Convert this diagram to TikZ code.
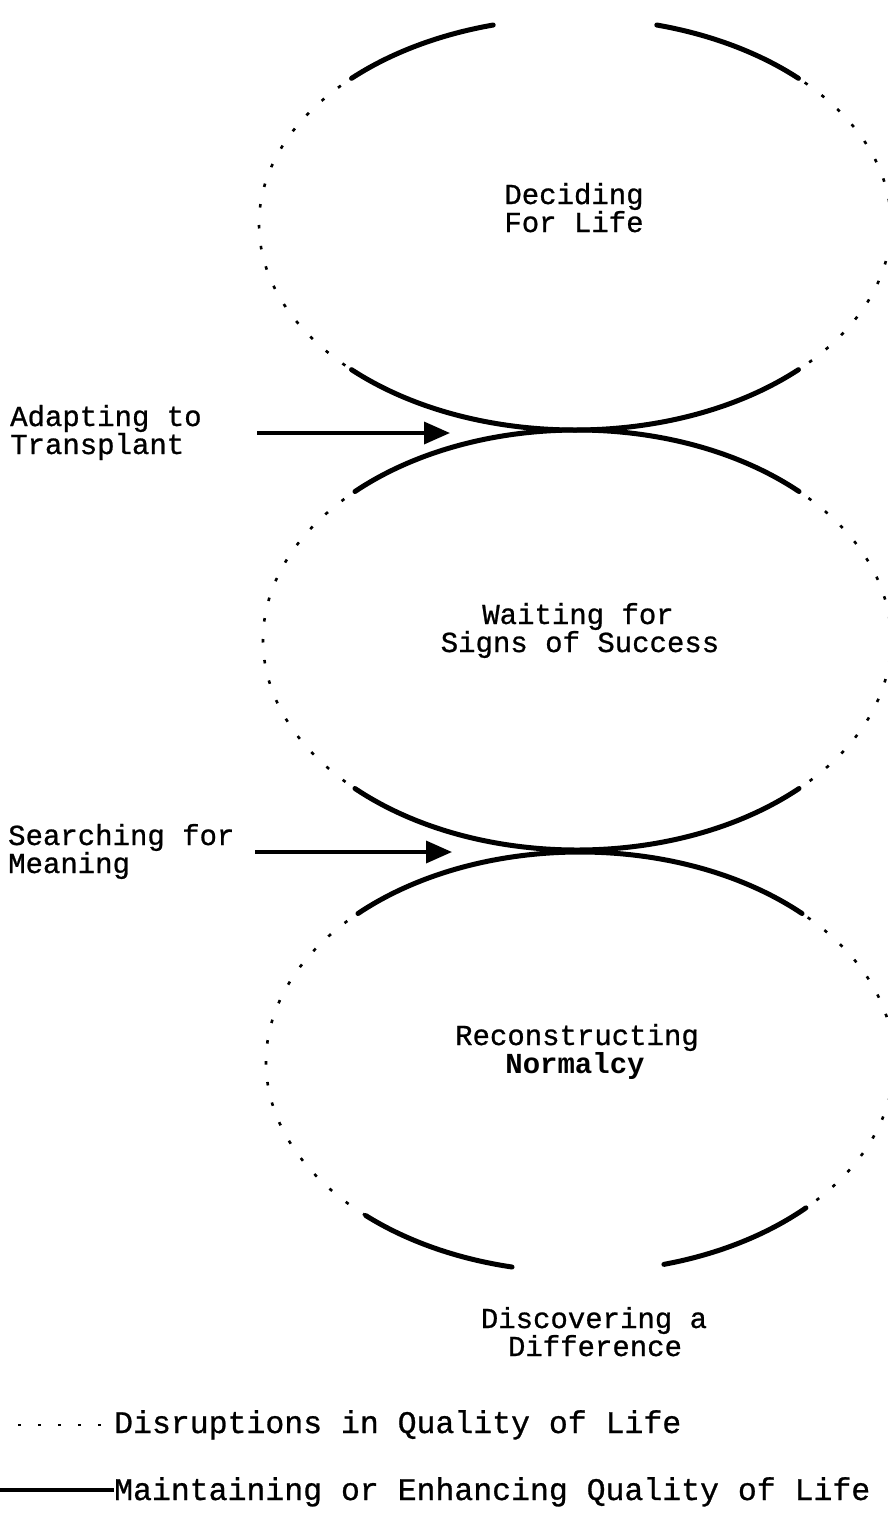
\documentclass[tikz,border=0pt]{standalone}
\usepackage{fontspec}
\newfontfamily\lmono[FakeBold=0.8]{Liberation Mono}
\newfontfamily\lmonob{Liberation Mono Bold}
\usetikzlibrary{arrows.meta}
\newcommand\earc[6]{% center, start, end, rx, ry, style
  \draw[#6] (#1) ++(#2:#4 and #5) arc[start angle=#2,end angle=#3,x radius=#4,y radius=#5];}
\begin{document}
\begin{tikzpicture}[x=1pt,y=1pt,
  solidarc/.style={line width=5pt,line cap=round},
  dotarc/.style={line width=2.6pt,dash pattern=on 3.5pt off 17.5pt,dash phase=8pt},
  lbl/.style={font=\lmono\bfseries\mdseries\fontsize{29}{26}\selectfont,inner sep=0pt,anchor=base},
  blbl/.style={font=\lmonob\fontsize{29}{26}\selectfont,inner sep=0pt,anchor=base},
  leg/.style={font=\lmono\fontsize{31.5}{32}\selectfont,inner sep=0pt,anchor=base west},
  arr/.style={line width=3.5pt,-{Triangle[length=26pt,width=22pt]}},
  legdot/.style={line width=2.6pt,dash pattern=on 3pt off 17pt,dash phase=-8pt}]
\useasboundingbox (0,0) rectangle (888,-1513);
% ellipse centres
\coordinate (c1) at (575,-224);
\coordinate (c2) at (577,-640);
\coordinate (c3) at (580,-1062);
% top ellipse
\earc{c1}{45}{75}{316}{206}{solidarc}
\earc{c1}{105}{135}{316}{206}{solidarc}
\earc{c1}{225}{315}{316}{206}{solidarc}
\earc{c1}{135}{225}{316}{206}{dotarc}
\earc{c1}{-45}{45}{316}{206}{dotarc}
% middle ellipse
\earc{c2}{45}{135}{314}{210}{solidarc}
\earc{c2}{225}{315}{314}{210}{solidarc}
\earc{c2}{135}{225}{314}{210}{dotarc}
\earc{c2}{-45}{45}{314}{210}{dotarc}
% bottom ellipse
\earc{c3}{45}{135}{314}{210}{solidarc}
\earc{c3}{227}{257.5}{314}{210}{solidarc}
\earc{c3}{285.5}{316}{314}{210}{solidarc}
\earc{c3}{135}{227}{314}{210}{dotarc}
\earc{c3}{-44}{45}{314}{210}{dotarc}
% labels
\node[lbl] (dec1) at (574,-204) {Deciding};
\node[lbl] (dec2) at (574,-232) {For Life};
\node[lbl,anchor=base west] (ad1) at (10,-426) {Adapting to};
\node[lbl,anchor=base west] (ad2) at (10,-454) {Transplant};
\node[lbl] (wa1) at (578,-624) {Waiting for};
\node[lbl] (wa2) at (580,-652) {Signs of Success};
\node[lbl,anchor=base west] (se1) at (8,-845) {Searching for};
\node[lbl,anchor=base west] (se2) at (8,-873) {Meaning};
\node[lbl] (re1) at (577,-1045) {Reconstructing};
\node[blbl] (re2) at (575,-1073) {Normalcy};
\node[lbl] (di1) at (594,-1328) {Discovering a};
\node[lbl] (di2) at (595,-1356) {Difference};
% arrows
\coordinate (a1s) at (257,-433);
\coordinate (a1t) at (450,-433);
\coordinate (a2s) at (255,-852);
\coordinate (a2t) at (452,-852);
\draw[arr] (a1s) -- (a1t);
\draw[arr] (a2s) -- (a2t);
% legend
\node[leg] (lg1) at (114,-1433) {Disruptions in Quality of Life};
\node[leg] (lg2) at (114,-1500) {Maintaining or Enhancing Quality of Life};
\coordinate (ld1) at (10,-1425);
\coordinate (ld2) at (112,-1425);
\coordinate (ls1) at (0,-1490);
\coordinate (ls2) at (114,-1490);
\draw[legdot] (ld1) -- (ld2);
\draw[line width=4pt] (ls1) -- (ls2);
\end{tikzpicture}
\end{document}
